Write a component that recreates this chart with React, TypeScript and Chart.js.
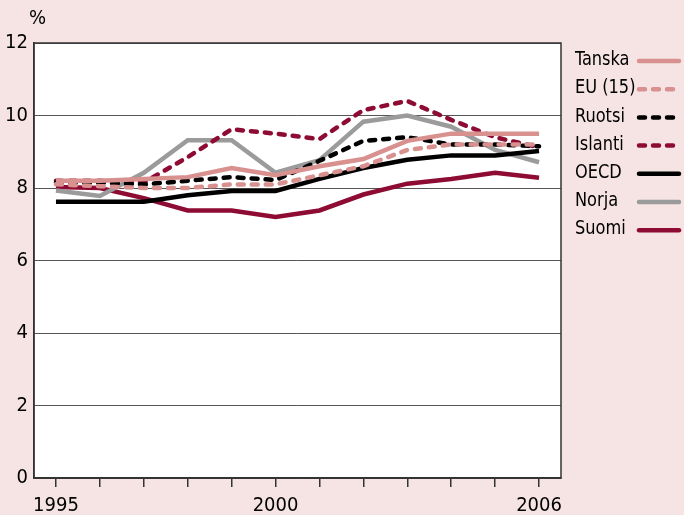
import { useEffect, useRef } from 'react';
import { Chart, registerables } from 'chart.js';

Chart.register(...registerables);

const FONT = "'DejaVu Sans Condensed', 'Liberation Sans Narrow', 'Roboto', sans-serif";
const FONT_SIZE = 20;

const years = ['1995', '1996', '1997', '1998', '1999', '2000', '2001', '2002', '2003', '2004', '2005', '2006'];
const shownYears = ['1995', '2000', '2006'];
const yTicks = [0, 2, 4, 6, 8, 10, 12];

const tanska = [8.2, 8.2, 8.25, 8.3, 8.55, 8.35, 8.6, 8.8, 9.3, 9.5, 9.5, 9.5];
const eu15 = [8.1, 8.05, 8.0, 8.0, 8.1, 8.1, 8.35, 8.6, 9.05, 9.2, 9.2, 9.2];
const ruotsi = [8.15, 8.15, 8.1, 8.2, 8.3, 8.22, 8.75, 9.3, 9.4, 9.2, 9.2, 9.15];
const islanti = [8.2, 8.2, 8.15, 8.85, 9.62, 9.5, 9.35, 10.15, 10.4, 9.88, 9.4, 9.12];
const oecd = [7.62, 7.62, 7.62, 7.8, 7.92, 7.92, 8.25, 8.55, 8.78, 8.9, 8.9, 9.02];
const norja = [7.93, 7.78, 8.42, 9.32, 9.32, 8.42, 8.77, 9.83, 10.0, 9.69, 9.05, 8.71];
const suomi = [8.03, 8.0, 7.72, 7.38, 7.38, 7.2, 7.38, 7.82, 8.12, 8.25, 8.42, 8.28];

const PINK = '#d8918f';
const DARKRED = '#8e0b33';
const GREY = '#9b9b9b';
const BLACK = '#000000';
const BG = '#f5e4e3';
const DASH = [6, 8];

const series = [
  { label: 'Tanska', data: tanska, color: PINK, dash: [] as number[] },
  { label: 'EU (15)', data: eu15, color: PINK, dash: DASH },
  { label: 'Ruotsi', data: ruotsi, color: BLACK, dash: DASH },
  { label: 'Islanti', data: islanti, color: DARKRED, dash: DASH },
  { label: 'OECD', data: oecd, color: BLACK, dash: [] as number[] },
  { label: 'Norja', data: norja, color: GREY, dash: [] as number[] },
  { label: 'Suomi', data: suomi, color: DARKRED, dash: [] as number[] },
];

const areaPlugin = {
  id: 'areaPlugin',
  beforeDraw(chart: any) {
    const { ctx, chartArea: a } = chart;
    ctx.save();
    ctx.fillStyle = '#ffffff';
    ctx.fillRect(a.left, a.top, a.right - a.left, a.bottom - a.top);
    ctx.restore();
  },
  afterDraw(chart: any) {
    const { ctx, chartArea: a } = chart;
    ctx.save();
    ctx.strokeStyle = '#333333';
    ctx.lineWidth = 1.5;
    ctx.strokeRect(a.left, a.top, a.right - a.left, a.bottom - a.top);
    // unit label
    ctx.fillStyle = '#000';
    ctx.font = `${FONT_SIZE}px ${FONT}`;
    ctx.textAlign = 'left';
    ctx.textBaseline = 'middle';
    ctx.fillText('%', 29, 19);
    // legend: text then line sample
    chart.data.datasets.forEach((ds: any, i: number) => {
      const y = 61 + i * 28.2;
      ctx.save();
      ctx.translate(575, y - 1);
      ctx.scale(0.9, 1);
      ctx.fillStyle = '#000';
      ctx.fillText(ds.label, 0, 0);
      ctx.restore();
      ctx.beginPath();
      ctx.strokeStyle = ds.borderColor;
      ctx.lineWidth = ds.borderWidth;
      ctx.lineCap = 'round';
      ctx.setLineDash(ds.borderDash || []);
      ctx.moveTo(639, y);
      ctx.lineTo(679, y);
      ctx.stroke();
      ctx.setLineDash([]);
    });
    ctx.restore();
  },
};

export default function App() {
  const ref = useRef<HTMLCanvasElement | null>(null);
  useEffect(() => {
    if (!ref.current) return;
    const chart = new Chart(ref.current, {
      type: 'line',
      data: {
        labels: years,
        datasets: series.map((s) => ({
          label: s.label,
          data: s.data,
          borderColor: s.color,
          backgroundColor: s.color,
          borderWidth: 4.5,
          borderDash: s.dash,
          borderCapStyle: s.dash.length ? 'round' : 'butt',
          borderJoinStyle: 'miter',
          pointRadius: 0,
          tension: 0,
          fill: false,
        })),
      },
      options: {
        animation: false,
        responsive: false,
        layout: { padding: { top: 43, right: 123, left: 0, bottom: 0 } },
        plugins: { legend: { display: false }, tooltip: { enabled: false }, title: { display: false } },
        scales: {
          x: {
            type: 'category',
            offset: true,
            grid: { offset: false, drawOnChartArea: false, drawTicks: true, tickLength: 9, color: '#333', lineWidth: 1.5 },
            border: { display: true, color: '#333', width: 1.5 },
            ticks: {
              autoSkip: false,
              maxRotation: 0,
              padding: 7,
              color: '#000',
              font: { family: FONT, size: FONT_SIZE },
              callback: function (this: any, value: any) {
                const lab = years[value as number];
                return shownYears.includes(lab) ? lab : '';
              },
            },
            afterFit(scale: any) {
              scale.height = 37;
            },
          },
          y: {
            min: 0,
            max: 12,
            afterBuildTicks(scale: any) {
              scale.ticks = yTicks.map((v) => ({ value: v }));
            },
            grid: { drawTicks: false, color: '#555', lineWidth: 1 },
            border: { display: true, color: '#333', width: 1.5 },
            ticks: { padding: 6, color: '#000', font: { family: FONT, size: FONT_SIZE } },
            afterFit(scale: any) {
              scale.width = 34;
            },
          },
        },
      },
      plugins: [areaPlugin],
    } as any);
    return () => chart.destroy();
  }, []);
  return (
    <div style={{ position: 'absolute', left: 0, top: 0, width: 684, height: 515, background: BG }}>
      <canvas ref={ref} width={684} height={515} style={{ display: 'block' }} />
    </div>
  );
}
